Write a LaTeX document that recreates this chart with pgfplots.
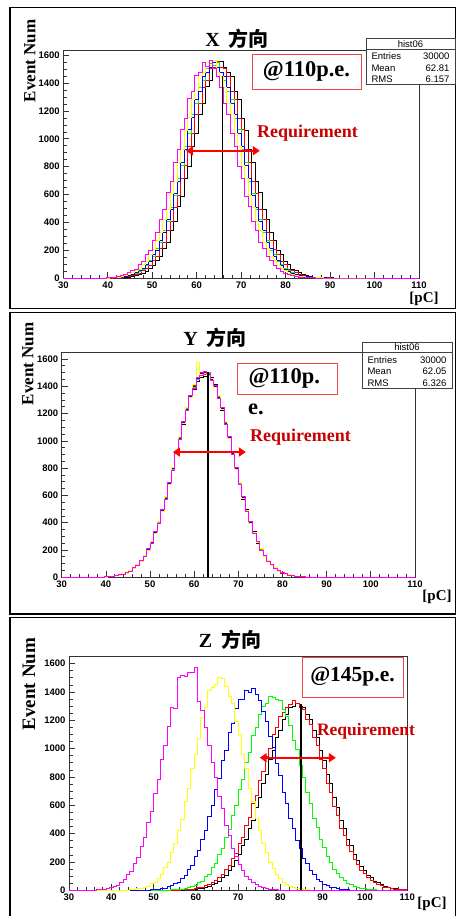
\documentclass[border=0pt]{standalone}
\usepackage{fontspec}
\setmainfont{Liberation Serif}
\setsansfont{Liberation Sans}
\newfontfamily\cjk{Noto Sans CJK SC}
\usepackage{pgfplots}
\usepackage{pgfplotstable}
\pgfplotsset{compat=1.18}
\usetikzlibrary{arrows.meta}

\definecolor{rmag}{RGB}{255,0,255}
\definecolor{ryel}{RGB}{255,255,0}
\definecolor{rblu}{RGB}{0,0,255}
\definecolor{rgrn}{RGB}{0,255,0}
\definecolor{rred}{RGB}{255,0,0}
\definecolor{reqred}{RGB}{200,0,0}
\definecolor{boxred}{RGB}{240,70,70}

\pgfplotsset{
  rootaxis/.style={
    scale only axis, anchor=south west,
    xmin=30, xmax=110, ymin=0,
    xtick={30,40,...,110}, ytick={0,200,...,1600},
    minor x tick num=4, minor y tick num=3,
    tick align=inside, xtick pos=left, ytick pos=left,
    major tick length=6pt, minor tick length=3.5pt,
    axis line style={line width=0.9pt, black!80},
    tick style={line width=0.7pt, black!80},
    ticklabel style={font=\sffamily\bfseries\fontsize{9.5}{10}\selectfont},
    /pgf/number format/assume math mode=true,
    /pgf/number format/1000 sep={},
  },
  hist/.style={const plot, line width=0.9pt, mark=none},
  req/.style={rred, line width=2.2pt,
    arrows={Triangle[length=7pt,width=9pt]-Triangle[length=7pt,width=9pt]}},
}

% bins of 0.8 pC, x = left bin edge
\pgfplotstableread{
x M Y B G R K
30.0 0 0 0 0 0 0
39.6 2 0 0 1 0 0
40.4 4 3 1 2 0 1
41.2 6 4 3 2 2 1
42.0 9 7 5 6 3 2
42.8 15 11 8 9 6 4
43.6 27 15 14 11 9 5
44.4 38 22 19 16 13 7
45.2 52 37 23 27 15 13
46.0 63 53 38 31 27 16
46.8 99 64 52 47 33 27
47.6 118 97 71 63 52 33
48.4 168 117 96 88 71 45
49.2 201 166 119 128 89 72
50.0 273 202 167 155 128 88
50.8 325 271 201 214 158 127
51.6 422 326 271 258 213 156
52.4 493 419 325 341 259 214
53.2 612 491 420 403 341 258
54.0 694 608 491 509 404 340
54.8 832 697 611 590 508 403
55.6 921 829 694 716 590 511
56.4 1068 926 830 806 717 588
57.2 1149 1063 922 948 806 716
58.0 1288 1150 1064 1037 948 805
58.8 1342 1281 1150 1176 1036 948
59.6 1456 1344 1281 1253 1177 1036
60.4 1477 1452 1343 1372 1252 1178
61.2 1552 1478 1451 1420 1372 1254
62.0 1521 1545 1477 1508 1421 1373
62.8 1566 1524 1510 1541 1506 1420
63.6 1503 1560 1552 1525 1513 1508
64.4 1448 1476 1513 1546 1557 1512
65.2 1370 1450 1476 1479 1512 1555
66.0 1252 1371 1450 1420 1507 1514
66.8 1178 1253 1372 1343 1450 1476
67.6 1037 1177 1252 1282 1343 1451
68.4 948 1036 1177 1149 1282 1343
69.2 805 948 1036 1064 1149 1281
70.0 717 806 948 922 1064 1149
70.8 588 716 806 830 922 1063
71.6 511 590 716 694 830 922
72.4 403 509 590 611 694 831
73.2 340 404 508 491 608 694
74.0 258 341 403 420 491 612
74.8 214 259 341 325 419 493
75.6 156 213 258 271 326 422
76.4 127 158 214 201 271 325
77.2 88 128 155 167 202 273
78.0 72 89 128 119 166 201
78.8 45 71 88 96 117 168
79.6 33 52 63 71 97 118
80.4 27 33 47 52 64 99
81.2 16 27 31 38 53 63
82.0 13 15 27 23 37 52
82.8 7 13 16 19 22 38
83.6 5 9 11 14 15 27
84.4 4 5 9 7 13 15
85.2 2 3 4 6 7 13
86.0 1 2 3 2 6 7
86.8 0 1 2 2 3 5
87.6 0 1 1 1 2 3
88.4 0 0 1 0 1 2
89.2 0 0 0 0 1 1
90.0 0 0 0 0 0 1
90.8 0 0 0 0 0 0
110.0 0 0 0 0 0 0
}\tabX

\pgfplotstableread{
x M Y B G R K
30.0 0 0 0 0 0 0
39.6 3 2 3 4 3 2
40.4 5 6 4 5 6 5
41.2 9 6 8 7 9 8
42.0 10 14 11 13 12 11
42.8 19 15 18 16 17 20
43.6 22 27 25 23 26 21
44.4 37 31 33 36 32 35
45.2 45 51 49 46 50 47
46.0 70 63 67 64 68 65
46.8 86 94 88 92 89 91
47.6 126 115 122 118 121 119
48.4 151 162 155 160 158 154
49.2 210 198 205 200 204 207
50.0 251 264 256 261 255 259
50.8 333 318 327 320 322 330
51.6 392 408 398 404 396 401
52.4 497 480 490 484 492 486
53.2 574 591 580 586 578 589
54.0 698 679 690 684 693 681
54.8 786 806 800 792 803 790
55.6 923 902 914 906 917 910
56.4 1012 1034 1020 1028 1016 1030
57.2 1145 1124 1138 1128 1140 1122
58.0 1222 1245 1230 1240 1228 1246
58.8 1336 1315 1327 1318 1330 1320
59.6 1386 1410 1402 1393 1405 1380
60.4 1465 1575 1458 1447 1460 1438
61.2 1476 1490 1495 1482 1500 1462
62.0 1510 1492 1504 1497 1488 1470
62.8 1495 1480 1490 1498 1478 1492
63.6 1442 1460 1450 1458 1447 1466
64.4 1408 1390 1400 1395 1405 1412
65.2 1312 1330 1320 1326 1316 1335
66.0 1245 1228 1238 1230 1242 1226
66.8 1122 1140 1130 1136 1125 1142
67.6 1032 1016 1026 1020 1030 1018
68.4 902 918 908 914 905 920
69.2 806 790 800 795 802 788
70.0 678 693 684 690 681 696
70.8 591 577 586 580 588 574
71.6 480 493 484 490 482 495
72.4 407 394 403 397 405 392
73.2 318 330 321 327 319 333
74.0 263 252 260 255 262 250
74.8 198 208 200 206 199 211
75.6 161 152 159 154 160 150
76.4 116 124 118 122 117 126
77.2 93 87 91 88 94 86
78.0 63 69 65 68 62 70
78.8 50 46 49 47 51 45
79.6 32 36 33 35 31 37
80.4 26 22 25 23 27 21
81.2 15 18 16 19 14 18
82.0 13 11 12 10 13 12
82.8 7 9 8 8 7 9
83.6 6 4 5 5 6 4
84.4 3 3 3 4 2 3
85.2 2 1 2 1 2 2
86.0 1 1 1 1 1 1
86.8 0 0 0 0 0 0
110.0 0 0 0 0 0 0
}\tabY

\pgfplotstableread{
x M Y B G R K
30.0 0 0 0 0 0 0
34.8 1 0 0 0 0 0
35.6 2 0 0 0 0 0
36.4 4 0 0 0 0 0
37.2 5 0 0 0 0 0
38.0 9 0 0 0 0 0
38.8 14 0 0 0 0 0
39.6 18 0 0 0 0 0
40.4 30 0 0 0 0 0
41.2 36 1 0 0 0 0
42.0 58 1 0 0 0 0
42.8 74 1 0 0 0 0
43.6 109 2 0 0 0 0
44.4 135 4 0 0 0 0
45.2 190 5 1 0 0 0
46.0 232 10 1 0 0 0
46.8 311 13 1 0 0 0
47.6 372 21 1 0 0 0
48.4 476 28 2 0 0 0
49.2 558 45 3 0 0 0
50.0 685 59 6 0 0 0
50.8 781 87 7 0 0 0
51.6 922 111 13 1 0 0
52.4 1022 158 16 1 0 0
53.2 1160 198 26 2 0 0
54.0 1290 270 31 3 0 0
54.8 1285 328 49 4 0 0
55.6 1500 425 58 8 2 0
56.4 1515 503 87 9 3 0
57.2 1510 630 104 15 5 3
58.0 1540 722 149 18 6 4
58.8 1535 862 178 30 9 6
59.6 1575 958 238 36 13 8
60.4 1330 1075 281 55 17 11
61.2 1270 1218 362 66 23 15
62.0 1150 1290 421 95 31 21
62.8 1020 1410 520 115 42 29
63.6 905 1432 596 158 55 38
64.4 795 1455 712 189 71 50
65.2 660 1505 790 250 94 64
66.0 575 1498 915 292 112 88
66.8 455 1440 990 372 149 104
67.6 388 1372 1115 430 176 140
68.4 296 1318 1180 526 226 166
69.2 242 1190 1285 598 262 214
70.0 180 1098 1350 710 330 250
70.8 143 958 1345 785 375 315
71.6 101 860 1410 900 458 360
72.4 79 722 1400 975 512 440
73.2 53 625 1422 1090 610 495
74.0 41 505 1385 1150 671 588
74.8 26 421 1340 1240 775 652
75.6 20 330 1262 1300 840 752
76.4 12 268 1195 1322 945 820
77.2 9 199 1088 1372 1002 922
78.0 6 157 1010 1360 1102 985
78.8 3 112 895 1345 1150 1078
79.6 2 86 808 1340 1230 1128
80.4 1 59 690 1276 1255 1205
81.2 0 44 610 1225 1290 1238
82.0 0 29 505 1165 1312 1290
82.8 0 21 436 1060 1342 1296
83.6 0 13 349 992 1318 1318
84.4 0 9 292 878 1290 1295
85.2 0 6 226 800 1276 1288
86.0 0 4 187 690 1205 1238
86.8 0 2 140 612 1170 1205
87.6 0 1 113 510 1080 1128
88.4 0 0 80 443 1025 1078
89.2 0 0 64 358 922 985
90.0 0 0 44 304 860 920
90.8 0 0 35 239 752 820
91.6 0 0 22 198 690 752
92.4 0 0 18 150 590 652
93.2 0 0 11 122 530 588
94.0 0 0 8 89 440 495
94.8 0 0 5 71 390 440
95.6 0 0 3 50 315 360
96.4 0 0 2 40 274 315
97.2 0 0 1 27 216 250
98.0 0 0 1 21 184 214
98.8 0 0 0 13 141 166
99.6 0 0 0 11 119 140
100.4 0 0 0 6 88 104
101.2 0 0 0 5 73 88
102.0 0 0 0 3 53 64
102.8 0 0 0 2 44 52
103.6 0 0 0 1 31 38
104.4 0 0 0 1 23 29
105.2 0 0 0 0 17 21
106.0 0 0 0 0 13 15
106.8 0 0 0 0 9 11
107.6 0 0 0 0 6 8
108.4 0 0 0 0 5 6
109.2 0 0 0 0 3 4
110.0 0 0 0 0 0 0
}\tabZ

\newcommand\sixhist[1]{%
  \addplot[hist, black] table[x=x,y=K]{#1};
  \addplot[hist, rred] table[x=x,y=R]{#1};
  \addplot[hist, rgrn] table[x=x,y=G]{#1};
  \addplot[hist, rblu] table[x=x,y=B]{#1};
  \addplot[hist, ryel] table[x=x,y=Y]{#1};
  \addplot[hist, rmag] table[x=x,y=M]{#1};
}
\newcommand\stat{\sffamily\fontsize{9.5}{10}\selectfont}
\newcommand\ttl{\fontsize{20}{22}\selectfont\bfseries}
\newcommand\evn{\bfseries Event Num}

\begin{document}
\begin{tikzpicture}
\path[use as bounding box] (0pt,0pt) rectangle (456pt,-916pt);

% ---------- X ----------
\draw[line width=1.3pt] (10pt,-7.3pt) rectangle (455.3pt,-308.3pt);
\begin{axis}[rootaxis, at={(63.3pt,-278pt)}, width=355.7pt, height=228pt, ymax=1638]
\sixhist{\tabX}
\addplot[black, line width=1.8pt] coordinates {(65.8,0) (65.8,1451)};
\addplot[req] coordinates {(57.6,914) (74.2,914)};
\end{axis}
\node at (237pt,-39pt) {\ttl X\hspace{0.45em}{\cjk 方向}};
\node[rotate=90] at (30pt,-61pt) {\fontsize{17}{20}\selectfont\evn};
\node[anchor=north] at (424pt,-289pt) {\fontsize{15}{17}\selectfont\bfseries [pC]};
\node[draw=boxred, line width=1pt, minimum width=109pt, minimum height=35pt, inner sep=0pt]
  at (306.5pt,-71.5pt) {\fontsize{22.5}{25}\selectfont\bfseries @110p.e.};
\node[text=reqred] at (307.5pt,-133pt) {\fontsize{18}{20}\selectfont\bfseries Requirement};
\draw[draw=black!75, fill=white, line width=0.8pt] (366pt,-38pt) rectangle (455pt,-84pt);
\draw[line width=0.6pt, black!75] (366pt,-49.5pt) -- (455pt,-49.5pt);
\node at (410.5pt,-44pt) {\stat hist06};
\node[anchor=west] at (368pt,-56.5pt) {\stat Entries};
\node[anchor=east] at (453pt,-56.5pt) {\stat 30000};
\node[anchor=west] at (368pt,-67.8pt) {\stat Mean};
\node[anchor=east] at (453pt,-67.8pt) {\stat 62.81};
\node[anchor=west] at (368pt,-79pt) {\stat RMS};
\node[anchor=east] at (453pt,-79pt) {\stat 6.157};

% ---------- Y ----------
\draw[line width=1.3pt] (10pt,-312.7pt) rectangle (455.3pt,-614pt);
\begin{axis}[rootaxis, at={(61.7pt,-577.3pt)}, width=353.3pt, height=224.6pt, ymax=1646]
\sixhist{\tabY}
\addplot[black, line width=1.8pt] coordinates {(63.2,0) (63.2,1507)};
\addplot[req] coordinates {(55.2,918) (71.7,918)};
\end{axis}
\node at (215pt,-338pt) {\ttl Y\hspace{0.45em}{\cjk 方向}};
\node[rotate=90] at (28pt,-364pt) {\fontsize{17}{20}\selectfont\evn};
\node at (437pt,-597pt) {\fontsize{15}{17}\selectfont\bfseries [pC]};
\draw[boxred, line width=1pt] (237pt,-363pt) rectangle (337pt,-394pt);
\node[anchor=west] at (245pt,-378.5pt) {\fontsize{22.5}{25}\selectfont\bfseries @110p.};
\node at (256pt,-409pt) {\fontsize{22.5}{25}\selectfont\bfseries e.};
\node[text=reqred] at (300.5pt,-437pt) {\fontsize{18}{20}\selectfont\bfseries Requirement};
\draw[draw=black!75, fill=white, line width=0.8pt] (362pt,-342pt) rectangle (452pt,-388pt);
\draw[line width=0.6pt, black!75] (362pt,-352.5pt) -- (452pt,-352.5pt);
\node at (407pt,-347.3pt) {\stat hist06};
\node[anchor=west] at (364pt,-360pt) {\stat Entries};
\node[anchor=east] at (450pt,-360pt) {\stat 30000};
\node[anchor=west] at (364pt,-371.5pt) {\stat Mean};
\node[anchor=east] at (450pt,-371.5pt) {\stat 62.05};
\node[anchor=west] at (364pt,-383pt) {\stat RMS};
\node[anchor=east] at (450pt,-383pt) {\stat 6.326};

% ---------- Z ----------
\draw[line width=1.3pt] (10pt,-920pt) -- (10pt,-617.7pt) -- (455.3pt,-617.7pt) -- (455.3pt,-920pt);
\begin{axis}[rootaxis, at={(69pt,-890.3pt)}, width=338.3pt, height=233.6pt, ymax=1649]
\sixhist{\tabZ}
\addplot[black, line width=1.8pt] coordinates {(84.9,0) (84.9,1318)};
\addplot[req] coordinates {(75.1,936) (93.1,936)};
\end{axis}
\node at (230pt,-640pt) {\ttl Z\hspace{0.45em}{\cjk 方向}};
\node[rotate=90] at (29pt,-684pt) {\fontsize{19}{22}\selectfont\evn};
\node at (432pt,-904pt) {\fontsize{15}{17}\selectfont\bfseries [pC]};
\node[draw=boxred, line width=1pt, minimum width=101pt, minimum height=40pt, inner sep=0pt]
  at (352.5pt,-677pt) {\fontsize{21.5}{24}\selectfont\bfseries @145p.e.};
\node[text=reqred] at (366pt,-731pt) {\fontsize{17.5}{20}\selectfont\bfseries Requirement};
\end{tikzpicture}
\end{document}
